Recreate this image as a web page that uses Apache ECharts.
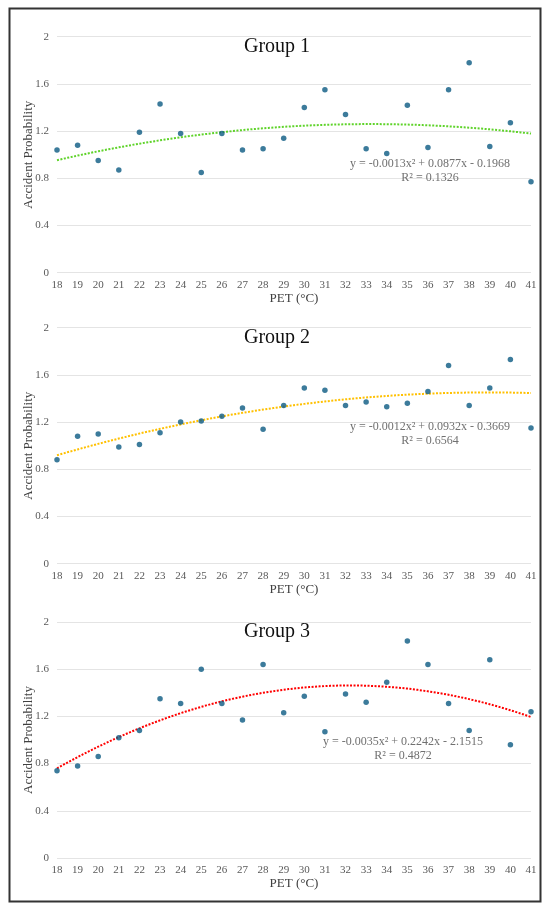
<!DOCTYPE html>
<html>
<head>
<meta charset="utf-8">
<script src="https://cdn.jsdelivr.net/npm/echarts@6/dist/echarts.min.js"></script>
<style>
  html, body { margin: 0; padding: 0; background: #fff; }
  #chart { width: 550px; height: 912px; }
</style>
</head>
<body>
<div id="chart"></div>
<script>
// PET (°C) categories on the x axis
const pet = [18, 19, 20, 21, 22, 23, 24, 25, 26, 27, 28, 29, 30, 31, 32, 33, 34, 35, 36, 37, 38, 39, 40, 41];

// accident probability per group
const group1 = [1.04, 1.08, 0.95, 0.87, 1.19, 1.43, 1.18, 0.85, 1.18, 1.04, 1.05, 1.14, 1.40, 1.55, 1.34, 1.05, 1.01, 1.42, 1.06, 1.55, 1.78, 1.07, 1.27, 0.77];
const group2 = [0.88, 1.08, 1.10, 0.99, 1.01, 1.11, 1.20, 1.21, 1.25, 1.32, 1.14, 1.34, 1.49, 1.47, 1.34, 1.37, 1.33, 1.36, 1.46, 1.68, 1.34, 1.49, 1.73, 1.15];
const group3 = [0.74, 0.78, 0.86, 1.02, 1.08, 1.35, 1.31, 1.60, 1.31, 1.17, 1.64, 1.23, 1.37, 1.07, 1.39, 1.32, 1.49, 1.84, 1.64, 1.31, 1.08, 1.68, 0.96, 1.24];

const titles = ['Group 1', 'Group 2', 'Group 3'];
const equations = [
  ['y = -0.0013x² + 0.0877x - 0.1968', 'R² = 0.1326'],
  ['y = -0.0012x² + 0.0932x - 0.3669', 'R² = 0.6564'],
  ['y = -0.0035x² + 0.2242x - 2.1515', 'R² = 0.4872']
];
const yTicks = [0, 0.4, 0.8, 1.2, 1.6, 2];

const groups = [group1, group2, group3];
const trendColors = ['#5FD32A', '#FFC000', '#FF0000'];
const dotColor = '#0B5A82';
const serif = '"Liberation Serif", "Times New Roman", serif';

// least squares quadratic (same as the excel polynomial trendline)
function polyFit2(xs, ys) {
  let s = [0, 0, 0, 0, 0], t = [0, 0, 0];
  xs.forEach((x, i) => {
    let p = 1;
    for (let k = 0; k < 5; k++) { s[k] += p; if (k < 3) t[k] += p * ys[i]; p *= x; }
  });
  // solve 3x3 system for c0 + c1 x + c2 x^2
  const m = [[s[0], s[1], s[2], t[0]], [s[1], s[2], s[3], t[1]], [s[2], s[3], s[4], t[2]]];
  for (let i = 0; i < 3; i++) {
    for (let j = i + 1; j < 3; j++) {
      const f = m[j][i] / m[i][i];
      for (let k = i; k < 4; k++) m[j][k] -= f * m[i][k];
    }
  }
  const c = [0, 0, 0];
  for (let i = 2; i >= 0; i--) {
    let v = m[i][3];
    for (let k = i + 1; k < 3; k++) v -= m[i][k] * c[k];
    c[i] = v / m[i][i];
  }
  return c;
}

function trendPoints(ys) {
  const c = polyFit2(pet, ys);
  const out = [];
  for (let x = pet[0]; x <= pet[pet.length - 1] + 1e-9; x += 0.25) {
    out.push([x, c[0] + c[1] * x + c[2] * x * x]);
  }
  return out;
}

const gridTops = [36.7, 327.7, 622];
const plotH = 236;
const plotLeft = 57, plotRight = 531;
const eqPos = [[430, 164], [430, 427], [403, 742]];

const grid = [], xAxis = [], yAxis = [], series = [], graphic = [];

groups.forEach((vals, g) => {
  grid.push({ left: plotLeft, width: plotRight - plotLeft, top: gridTops[g], height: plotH });
  xAxis.push({
    gridIndex: g, type: 'value', min: 18, max: 41, interval: 1,
    name: 'PET (°C)', nameLocation: 'middle', nameGap: 19,
    nameTextStyle: { fontFamily: serif, fontSize: 13, color: '#404040' },
    axisLine: { show: false }, axisTick: { show: false }, splitLine: { show: false },
    axisLabel: { fontFamily: serif, fontSize: 11, color: '#595959', margin: 7 }
  });
  yAxis.push({
    gridIndex: g, type: 'value', min: yTicks[0], max: yTicks[yTicks.length - 1], interval: 0.4,
    name: 'Accident Probability', nameLocation: 'middle', nameGap: 22, nameRotate: 90,
    nameMoveOverlap: false,
    nameTextStyle: { fontFamily: serif, fontSize: 13, color: '#404040' },
    axisLine: { show: false }, axisTick: { show: false },
    splitLine: { lineStyle: { color: '#E4E4E4', width: 1 } },
    axisLabel: { fontFamily: serif, fontSize: 11, color: '#595959', margin: 8 }
  });
  series.push({
    type: 'line', xAxisIndex: g, yAxisIndex: g, data: trendPoints(vals),
    showSymbol: false, smooth: false, silent: true, z: 2,
    lineStyle: { color: trendColors[g], width: 2, type: [2, 1.5] }
  });
  series.push({
    type: 'scatter', xAxisIndex: g, yAxisIndex: g, z: 3,
    data: pet.map((x, i) => [x, vals[i]]),
    symbolSize: 5.5, itemStyle: { color: dotColor }
  });
  graphic.push({
    type: 'text', x: 277, y: gridTops[g] + 10, z: 10,
    style: { text: titles[g], font: '20px ' + serif, fill: '#111', align: 'center', verticalAlign: 'middle' }
  });
  equations[g].forEach((line, k) => {
    graphic.push({
      type: 'text', x: eqPos[g][0], y: eqPos[g][1] + k * 14, z: 10,
      style: { text: line, font: '12px ' + serif, fill: '#707070', align: 'center', verticalAlign: 'middle' }
    });
  });
});

graphic.push({
  type: 'rect', z: 20, silent: true,
  shape: { x: 9.5, y: 8.5, width: 531, height: 893 },
  style: { fill: 'none', stroke: '#333', lineWidth: 2 }
});

const chart = echarts.init(document.getElementById('chart'));
chart.setOption({
  animation: false,
  backgroundColor: '#fff',
  textStyle: { fontFamily: serif },
  grid, xAxis, yAxis, series, graphic
});
</script>
</body>
</html>
